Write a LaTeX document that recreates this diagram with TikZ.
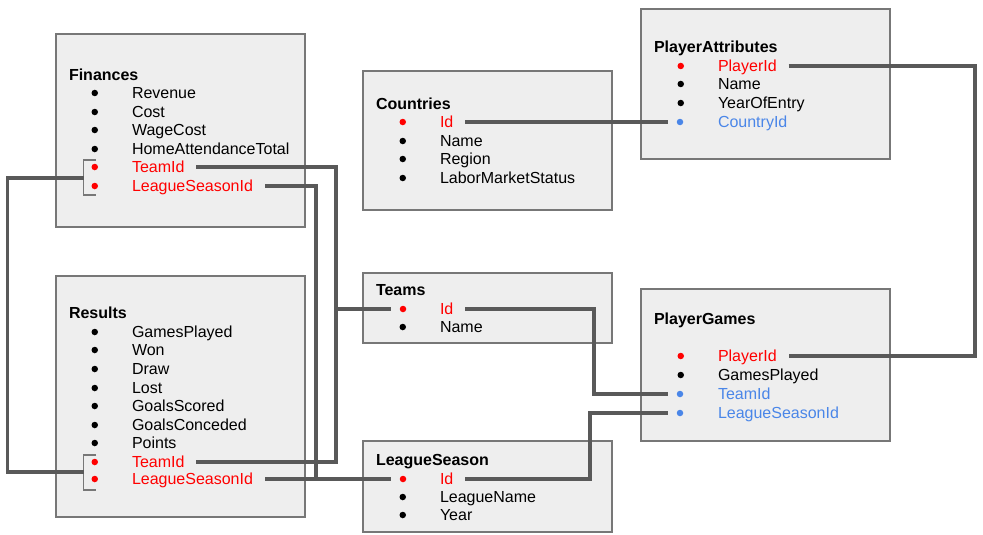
\documentclass[tikz,border=0pt]{standalone}
\usepackage{fontspec}
\setmainfont{Liberation Sans}
\definecolor{boxfill}{HTML}{EEEEEE}
\definecolor{boxline}{HTML}{777777}
\definecolor{linkgray}{HTML}{595959}
\definecolor{keyred}{HTML}{FF0000}
\definecolor{refblue}{HTML}{4A86E8}
\begin{document}
\begin{tikzpicture}[x=1pt, y=-1pt, font=\fontsize{16}{18}\selectfont,
	tbl/.style={draw=boxline, fill=boxfill, line width=1.5pt},
	head/.style={anchor=text, inner sep=0pt, font=\fontsize{16}{18}\selectfont\bfseries},
	bul/.style={circle, inner sep=0pt, outer sep=0pt, minimum size=6.5pt, text height=0pt, text depth=0pt},
	dot/.style={bul, fill=#1, outer sep=9pt},
	fld/.style={anchor=text, inner sep=0pt, outer xsep=12pt, text height=11pt, text depth=0pt, text=#1},
	fld/.default=black,
	item/.style={fld=#1, label={[bul, fill=#1, xshift=-22pt]180:{}}},
	item/.default=black,
	link/.style={draw=linkgray, line width=3.2pt},
	brk/.style={draw=boxline, line width=1.2pt}]
			\useasboundingbox (0,0) rectangle (983,535);
			%tables
			\draw[tbl] (56,34) rectangle (305,227);
			\draw[tbl] (56,276) rectangle (305,517);
			\draw[tbl] (363,71) rectangle (612,210);
			\draw[tbl] (641,9) rectangle (890,159);
			\draw[tbl] (363,273) rectangle (612,343);
			\draw[tbl] (641,289) rectangle (890,441);
			\draw[tbl] (363,441) rectangle (612,532);
			%finances
			\node[head] (finTitle) at (69,80.5) {Finances};
			\node[item] (finRev) at (132,98.5) {Revenue};
			\node[item] (finCost) at (132,117.5) {Cost};
			\node[item] (finWage) at (132,135.5) {WageCost};
			\node[item] (finAtt) at (132,154.5) {HomeAttendanceTotal};
			\node[item=keyred] (finTeam) at (132,172.5) {TeamId};
			\node[item=keyred] (finLeague) at (132,191.5) {LeagueSeasonId};
			%results
			\node[head] (resTitle) at (69,318.5) {Results};
			\node[item] (resGames) at (132,337.5) {GamesPlayed};
			\node[item] (resWon) at (132,355.5) {Won};
			\node[item] (resDraw) at (132,374.5) {Draw};
			\node[item] (resLost) at (132,393.5) {Lost};
			\node[item] (resScored) at (132,411.5) {GoalsScored};
			\node[item] (resConceded) at (132,430.5) {GoalsConceded};
			\node[item] (resPoints) at (132,448.5) {Points};
			\node[item=keyred] (resTeam) at (132,467.5) {TeamId};
			\node[item=keyred] (resLeague) at (132,484.5) {LeagueSeasonId};
			%countries
			\node[head] (coTitle) at (376,109.5) {Countries};
			\node[item=keyred] (coId) at (440,127.5) {Id};
			\node[item] (coName) at (440,146.5) {Name};
			\node[item] (coRegion) at (440,164.5) {Region};
			\node[item] (coLabor) at (440,183.5) {LaborMarketStatus};
			%player attributes
			\node[head] (paTitle) at (654,52.5) {PlayerAttributes};
			\node[item=keyred] (paPlayer) at (718,71.5) {PlayerId};
			\node[item] (paName) at (718,89.5) {Name};
			\node[item] (paYear) at (718,108.5) {YearOfEntry};
			\node[fld=refblue] (paCountry) at (718,127.5) {CountryId};
			\node[dot=refblue] (paCountryDot) at (680,122) {};
			%teams
			\node[head] (tmTitle) at (376,295.5) {Teams};
			\node[fld=keyred] (tmId) at (440,314.5) {Id};
			\node[dot=keyred] (tmDot) at (403,309) {};
			\node[item] (tmName) at (440,332.5) {Name};
			%player games
			\node[head] (pgTitle) at (654,324.5) {PlayerGames};
			\node[item=keyred] (pgPlayer) at (718,361.5) {PlayerId};
			\node[item] (pgGames) at (718,380.5) {GamesPlayed};
			\node[fld=refblue] (pgTeam) at (718,399.5) {TeamId};
			\node[dot=refblue] (pgTeamDot) at (680,394) {};
			\node[fld=refblue] (pgLeague) at (718,418.5) {LeagueSeasonId};
			\node[dot=refblue] (pgLeagueDot) at (680,413) {};
			%league season
			\node[head] (lsTitle) at (376,465.5) {LeagueSeason};
			\node[fld=keyred] (lsId) at (440,484.5) {Id};
			\node[dot=keyred] (lsDot) at (403,479) {};
			\node[item] (lsName) at (440,502.5) {LeagueName};
			\node[item] (lsYear) at (440,520.5) {Year};
			%brackets on the left
			\draw[brk] (96,160) -- (83.5,160) -- (83.5,195) -- (96,195);
			\draw[brk] (96,455) -- (83.5,455) -- (83.5,490) -- (96,490);
			\coordinate (finBr) at (83.5,178);
			\coordinate (resBr) at (83.5,472);
			\draw[link] (finBr) -- ++(-76,0) |- (resBr);
			%links to teams and league season
			\coordinate (tmJoin) at (336,309);
			\coordinate (lsJoin) at (316,479);
			\draw[link] (finTeam.east) -| (tmJoin) -- (tmDot);
			\draw[link] (resTeam.east) -| (tmJoin);
			\draw[link] (finLeague.east) -| (lsJoin);
			\draw[link] (resLeague.east) -- (lsDot);
			%links to the player tables
			\coordinate (plCol) at (975,0);
			\coordinate (tmCol) at (594,0);
			\coordinate (lsCol) at (590,0);
			\draw[link] (coId.east) -- (paCountryDot);
			\draw[link] (paPlayer.east) -- (paPlayer.east -| plCol) |- (pgPlayer.east);
			\draw[link] (tmId.east) -| (tmCol |- pgTeamDot) -- (pgTeamDot);
			\draw[link] (lsId.east) -| (lsCol |- pgLeagueDot) -- (pgLeagueDot);
		\end{tikzpicture}
\end{document}
